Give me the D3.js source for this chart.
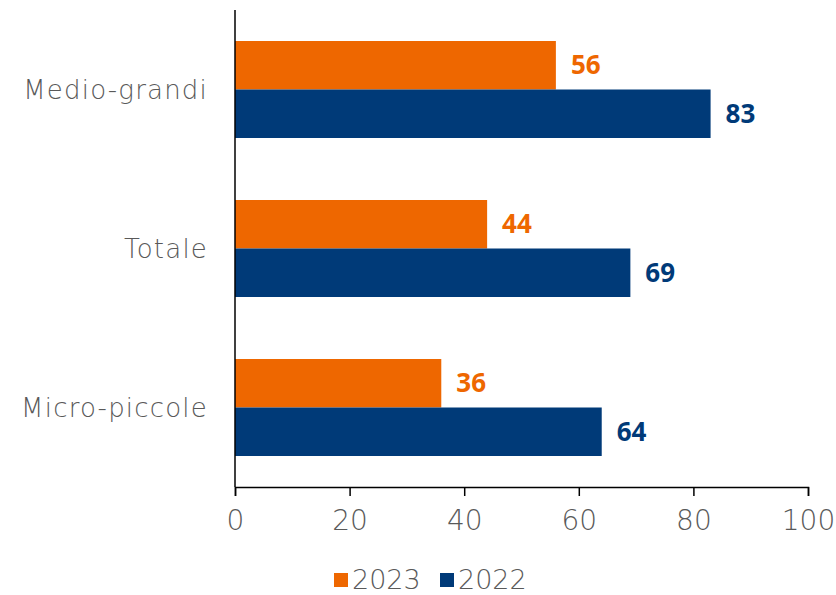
<!DOCTYPE html>
<html>
<head>
<meta charset="utf-8">
<script src="https://cdn.jsdelivr.net/npm/d3@7"></script>
<style>
  body { margin: 0; background: #fff; }
  text { font-family: "Open Sans", "DejaVu Sans", sans-serif; }
  .thin { font-family: "DejaVu Sans", "DejaVu Sans ExtraLight", sans-serif; font-weight: 200; }
</style>
</head>
<body>
<div id="chart"></div>
<script>
// data
const categories = ["Medio-grandi", "Totale", "Micro-piccole"];
const seriesNames = ["2023", "2022"];
const values2023 = [56, 44, 36];
const values2022 = [83, 69, 64];
const xTicks = [0, 20, 40, 60, 80, 100];

const colors = { "2023": "#EE6700", "2022": "#003A78" };

const width = 836, height = 595;
const margin = { top: 10, right: 28, bottom: 108, left: 235 };

const svg = d3.select("#chart")
    .append("svg")
    .attr("width", width)
    .attr("height", height);

const g = svg.append("g")
    .attr("transform", `translate(${margin.left}, ${margin.top})`);

const innerW = width - margin.left - margin.right;
const innerH = height - margin.top - margin.bottom;

const x = d3.scaleLinear().domain([0, 100]).range([0, innerW]);

const y = d3.scaleBand()
    .domain(categories)
    .range([0, innerH])
    .paddingInner(0.39)
    .paddingOuter(0.195);

const ySub = d3.scaleBand()
    .domain(seriesNames)
    .range([0, y.bandwidth()]);

const rows = categories.map((c, i) => ({
    cat: c,
    vals: [
        { s: "2023", v: values2023[i] },
        { s: "2022", v: values2022[i] }
    ]
}));

// bars
const grp = g.selectAll(".grp")
    .data(rows)
    .enter().append("g")
    .attr("transform", d => `translate(0, ${y(d.cat)})`);

grp.selectAll("rect")
    .data(d => d.vals)
    .enter().append("rect")
    .attr("x", 0)
    .attr("y", d => ySub(d.s))
    .attr("width", d => x(d.v))
    .attr("height", ySub.bandwidth())
    .attr("fill", d => colors[d.s]);

// value labels
grp.selectAll(".val")
    .data(d => d.vals)
    .enter().append("text")
    .attr("x", d => x(d.v) + 15)
    .attr("y", d => ySub(d.s) + ySub.bandwidth() / 2)
    .attr("dy", "0.35em")
    .attr("fill", d => colors[d.s])
    .style("font-size", "26px")
    .style("font-weight", "bold")
    .text(d => d.v);

// y axis line + category labels
g.append("line")
    .attr("x1", 0).attr("x2", 0)
    .attr("y1", 0).attr("y2", innerH)
    .attr("stroke", "#000")
    .attr("stroke-width", 1.5);

g.selectAll(".cat")
    .data(categories)
    .enter().append("text")
    .attr("class", "thin")
    .attr("x", -27)
    .attr("y", d => y(d) + y.bandwidth() / 2)
    .attr("dy", "0.35em")
    .attr("text-anchor", "end")
    .attr("fill", "#595959")
    .style("font-size", "26px")
    .style("letter-spacing", "1.2px")
    .text(d => d);

// x axis
const xAxis = g.append("g")
    .attr("transform", `translate(0, ${innerH})`)
    .call(d3.axisBottom(x).tickValues(xTicks).tickSize(9).tickPadding(14));

xAxis.select(".domain").attr("stroke", "#000").attr("stroke-width", 1.5);
xAxis.selectAll(".tick line").attr("stroke", "#000").attr("stroke-width", 1.5);
xAxis.selectAll(".tick text")
    .attr("class", "thin")
    .attr("fill", "#595959")
    .style("font-size", "28px");

// legend
const legend = svg.append("g")
    .attr("transform", "translate(334, 580)");

const legItems = legend.selectAll(".leg")
    .data(seriesNames)
    .enter().append("g")
    .attr("transform", (d, i) => `translate(${i * 106}, 0)`);

legItems.append("rect")
    .attr("x", 0)
    .attr("y", -7)
    .attr("width", 14)
    .attr("height", 14)
    .attr("fill", d => colors[d]);

legItems.append("text")
    .attr("class", "thin")
    .attr("x", 18)
    .attr("y", 0)
    .attr("dy", "0.35em")
    .attr("fill", "#595959")
    .style("font-size", "27px")
    .text(d => d);
</script>
</body>
</html>
